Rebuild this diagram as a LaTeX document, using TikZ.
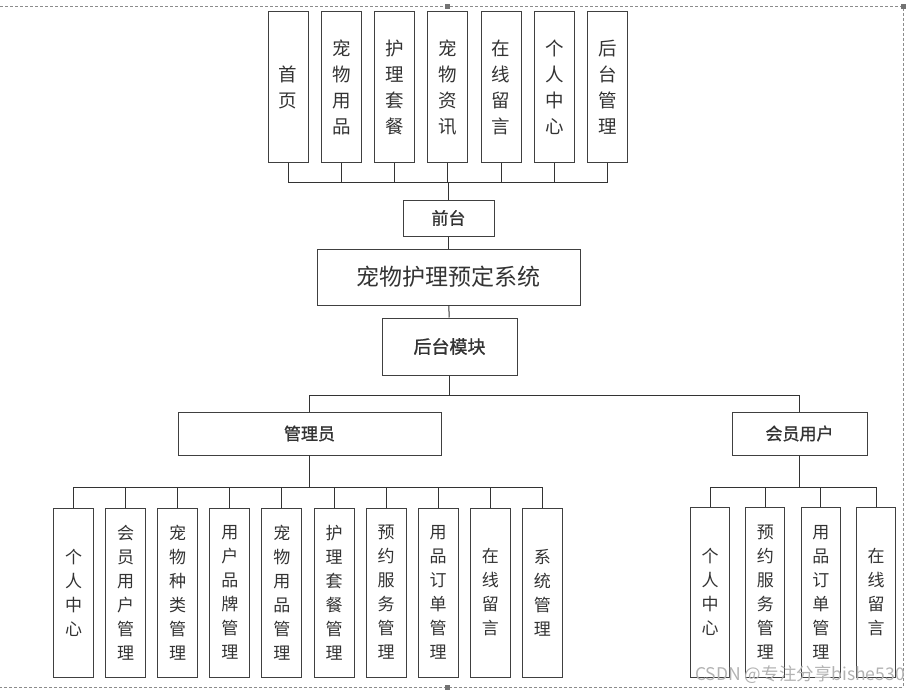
\documentclass[tikz,border=0pt]{standalone}
\usepackage{fontspec}
\setmainfont{Noto Sans CJK SC}
\newfontfamily\medfont{Noto Sans CJK SC}[FakeBold=1.2]
\begin{document}
\begin{tikzpicture}[x=1pt,y=-1pt,
		box/.style={draw=black!75, line width=1pt, inner sep=0pt, align=center, text=black!80},
		topbox/.style={box, minimum width=40pt, minimum height=151pt, font=\fontsize{18.5}{26}\selectfont},
		admbox/.style={box, minimum width=40pt, minimum height=169pt, font=\fontsize{17}{24}\selectfont},
		membox/.style={box, minimum width=39pt, minimum height=170pt, font=\fontsize{17}{24}\selectfont},
		link/.style={draw=black!80, line width=1pt},
		handle/.style={fill=black!55, draw=none}]
		\useasboundingbox (0,0) rectangle (908,690);
		% dashed page frame
		\draw[black!45, line width=.8pt, dash pattern=on 3pt off 2pt] (0,6) -- (903,6) -- (903,687) -- (0,687);
		\fill[handle] (445,4) rectangle (450,9);
		\fill[handle] (445,685) rectangle (450,690);
		\fill[handle] (901,4) rectangle (906,9);
		% main chain
		\node[box, minimum width=91pt, minimum height=36pt, font=\medfont\fontsize{17}{20}\selectfont] (qiantai) at (448.5,218) {前台};
		\node[box, minimum width=263pt, minimum height=56pt, font=\fontsize{23}{26}\selectfont] (system) at (448.5,277) {宠物护理预定系统};
		\node[box, minimum width=135pt, minimum height=57pt, font=\medfont\fontsize{18}{20}\selectfont] (houtai) at (449.5,346.5) {后台模块};
		\node[box, minimum width=263pt, minimum height=43pt, font=\medfont\fontsize{17}{20}\selectfont] (admin) at (309.5,433.5) {管理员};
		\node[box, minimum width=135pt, minimum height=43pt, font=\medfont\fontsize{17}{20}\selectfont] (member) at (799.5,433.5) {会员用户};
		\draw[link] (qiantai) -- (system);
		\draw[link] (system) -- (houtai);
		\draw[link] (houtai.south) -- ++(0,20) -| (admin.north);
		\draw[link] (houtai.south) -- ++(0,20) -| (member.north);
		% front pages
		\foreach \txt [count=\i] in {{首\\页},{宠\\物\\用\\品},{护\\理\\套\\餐},{宠\\物\\资\\讯},{在\\线\\留\\言},{个\\人\\中\\心},{后\\台\\管\\理}}
			\node[topbox] (t\i) at ({288+53.3*(\i-1)},87.5) {\txt};
		\foreach \i in {1,...,7}
			\draw[link] (qiantai.north) -- ++(0,-17) -| (t\i.south);
		% admin modules
		\foreach \txt [count=\i] in {{个\\人\\中\\心},{会\\员\\用\\户\\管\\理},{宠\\物\\种\\类\\管\\理},{用\\户\\品\\牌\\管\\理},{宠\\物\\用\\品\\管\\理},{护\\理\\套\\餐\\管\\理},{预\\约\\服\\务\\管\\理},{用\\品\\订\\单\\管\\理},{在\\线\\留\\言},{系\\统\\管\\理}}
			\node[admbox] (a\i) at ({73.5+52.1*(\i-1)},592.5) {\txt};
		\foreach \i in {1,...,10}
			\draw[link] (admin.south) -- ++(0,32) -| (a\i.north);
		% member modules
		\foreach \txt [count=\i] in {{个\\人\\中\\心},{预\\约\\服\\务\\管\\理},{用\\品\\订\\单\\管\\理},{在\\线\\留\\言}}
			\node[membox] (m\i) at ({710+55.4*(\i-1)},592) {\txt};
		\foreach \i in {1,...,4}
			\draw[link] (member.south) -- ++(0,32) -| (m\i.north);
		% watermark
		\node[text=black!30, font=\fontsize{17.5}{19}\selectfont, anchor=east, inner sep=0pt] (mark) at (905,675) {CSDN @专注分享bishe530};
	\end{tikzpicture}
\end{document}
